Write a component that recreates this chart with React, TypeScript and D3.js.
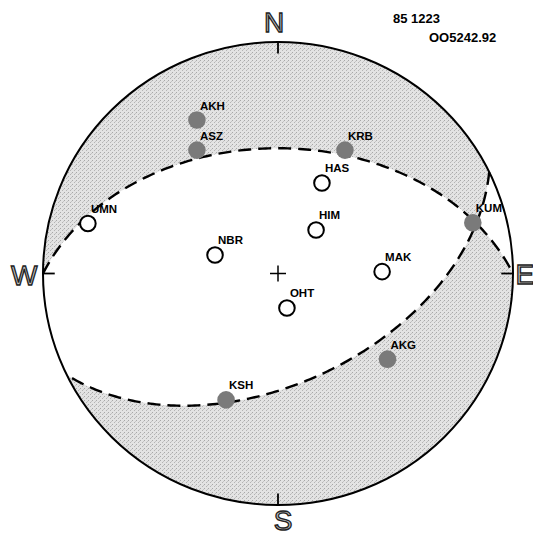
import React from 'react';
import * as d3 from 'd3';

// nodal planes (strike, dip in degrees), lower hemisphere equal-area
const planeStrikes = [270, 64];
const planeDips = [45, 51];

// stations: normalized projected position (east, north) on the unit net
const stationNames = ['AKH', 'ASZ', 'KRB', 'HAS', 'UMN', 'HIM', 'NBR', 'MAK', 'OHT', 'KUM', 'AKG', 'KSH'];
const stationEast = [-0.345, -0.345, 0.285, 0.187, -0.809, 0.162, -0.268, 0.443, 0.038, 0.829, 0.466, -0.221];
const stationNorth = [0.663, 0.533, 0.533, 0.391, 0.216, 0.188, 0.080, 0.008, -0.149, 0.219, -0.370, -0.546];
const stationPolarity = ['C', 'C', 'C', 'D', 'D', 'D', 'D', 'D', 'D', 'C', 'C', 'C'];

const directionLabels = ['N', 'E', 'S', 'W'];
const directionAzimuths = [0, 90, 180, 270];
const headerLines = ['85 1223', 'OO5242.92'];

const W = 533;
const H = 536;
const x = d3.scaleLinear().domain([-1, 1]).range([43, 513]);
const y = d3.scaleLinear().domain([-1, 1]).range([505, 42]);
const rad = Math.PI / 180;

type P = [number, number];

function project(e: number, n: number, d: number): P {
  const h = Math.hypot(e, n);
  const r = Math.sqrt(Math.max(0, 1 - d));
  if (h < 1e-9) return [0, 0];
  return [(r * e) / h, (r * n) / h];
}

function greatCircle(strike: number, dip: number): P[] {
  const phi = strike * rad;
  const del = dip * rad;
  const s = [Math.sin(phi), Math.cos(phi), 0];
  const u = [Math.sin(phi + Math.PI / 2) * Math.cos(del), Math.cos(phi + Math.PI / 2) * Math.cos(del), Math.sin(del)];
  return d3.range(0, 180.5, 1).map((tDeg) => {
    const t = tDeg * rad;
    const v = s.map((c, i) => Math.cos(t) * c + Math.sin(t) * u[i]);
    return project(v[0], v[1], v[2]);
  });
}

function arc(fromAz: number, toAz: number): P[] {
  const n = Math.max(2, Math.ceil(Math.abs(toAz - fromAz) / 2));
  return d3.range(0, n + 1).map((i) => {
    const a = (fromAz + ((toAz - fromAz) * i) / n) * rad;
    return [Math.sin(a), Math.cos(a)] as P;
  });
}

function halfPolygon(k: number, dipSide: boolean): P[] {
  const st = planeStrikes[k];
  const curve = greatCircle(st, planeDips[k]);
  return dipSide ? [...curve, ...arc(st + 180, st)] : [...curve, ...arc(st + 180, st + 360)];
}

const line = d3
  .line<P>()
  .x((p) => x(p[0]))
  .y((p) => y(p[1]));

// offsets of the compass letters from their azimuth points (text layout)
const letterDx = [-4, -7, 5, 0];
const letterDy = [9, 10, 6.5, 11];

export default function App() {
  const cx = x(0);
  const cy = y(0);
  const rx = x(1) - x(0);
  const ry = y(0) - y(1);
  const labelFont = '"Liberation Sans", Arial, sans-serif';
  return (
    <svg width={W} height={H} style={{ position: 'absolute', left: 0, top: 0, background: '#fff' }}>
      <defs>
        <clipPath id="p2anti">
          <path d={line(halfPolygon(1, false)) + 'Z'} />
        </clipPath>
        <clipPath id="p2dip">
          <path d={line(halfPolygon(1, true)) + 'Z'} />
        </clipPath>
        <pattern id="stipple" width={4} height={4} patternUnits="userSpaceOnUse">
          <rect width={4} height={4} fill="#e3e3e3" />
          <rect x={0} y={0} width={1} height={1} fill="#a8a8a8" />
          <rect x={2} y={2} width={1} height={1} fill="#b4b4b4" />
          <rect x={3} y={1} width={1} height={1} fill="#c4c4c4" />
        </pattern>
      </defs>
      {/* compressional quadrants */}
      <path d={line(halfPolygon(0, true)) + 'Z'} fill="url(#stipple)" clipPath="url(#p2anti)" />
      <path d={line(halfPolygon(0, false)) + 'Z'} fill="url(#stipple)" clipPath="url(#p2dip)" />
      {/* primitive circle */}
      <ellipse cx={cx} cy={cy} rx={rx} ry={ry} fill="none" stroke="#000" strokeWidth={2} />
      {directionAzimuths.map((az, i) => {
        const a = az * rad;
        const p1: P = [Math.sin(a), Math.cos(a)];
        const p2: P = [Math.sin(a) * 0.95, Math.cos(a) * 0.95];
        const p3: P = [Math.sin(a) * 1.08, Math.cos(a) * 1.08];
        return (
          <g key={az}>
            <line x1={x(p1[0])} y1={y(p1[1])} x2={x(p2[0])} y2={y(p2[1])} stroke="#000" strokeWidth={1.8} />
            <text
              x={x(p3[0]) + letterDx[i]}
              y={y(p3[1]) + letterDy[i]}
              textAnchor="middle"
              fontFamily={labelFont}
              fontSize={28}
              fill="#c0c0c0"
              stroke="#222"
              strokeWidth={1.3}
            >
              {directionLabels[i]}
            </text>
          </g>
        );
      })}
      {/* nodal planes */}
      {planeStrikes.map((st, k) => (
        <path
          key={k}
          d={line(greatCircle(st, planeDips[k])) || ''}
          fill="none"
          stroke="#000"
          strokeWidth={2.4}
          strokeDasharray="13,7"
        />
      ))}
      {/* center cross */}
      <line x1={cx - 8} y1={cy} x2={cx + 8} y2={cy} stroke="#000" strokeWidth={1.5} />
      <line x1={cx} y1={cy - 8} x2={cx} y2={cy + 8} stroke="#000" strokeWidth={1.5} />
      {/* stations */}
      {stationNames.map((name, i) => {
        const sx = x(stationEast[i]);
        const sy = y(stationNorth[i]);
        const comp = stationPolarity[i] === 'C';
        return (
          <g key={name}>
            <circle
              cx={sx}
              cy={sy}
              r={comp ? 8.8 : 7.8}
              fill={comp ? '#7a7a7a' : '#fff'}
              stroke={comp ? 'none' : '#000'}
              strokeWidth={2}
            />
            <text
              x={sx + 3}
              y={sy - 14.5}
              dominantBaseline="central"
              fontFamily={labelFont}
              fontWeight="bold"
              fontSize={11.5}
              fill="#000"
            >
              {name}
            </text>
          </g>
        );
      })}
      {/* header */}
      <text x={393} y={18} dominantBaseline="central" fontFamily={labelFont} fontSize={13} fontWeight="bold">
        {headerLines[0]}
      </text>
      <text x={429} y={37} dominantBaseline="central" fontFamily={labelFont} fontSize={13} fontWeight="bold">
        {headerLines[1]}
      </text>
    </svg>
  );
}
